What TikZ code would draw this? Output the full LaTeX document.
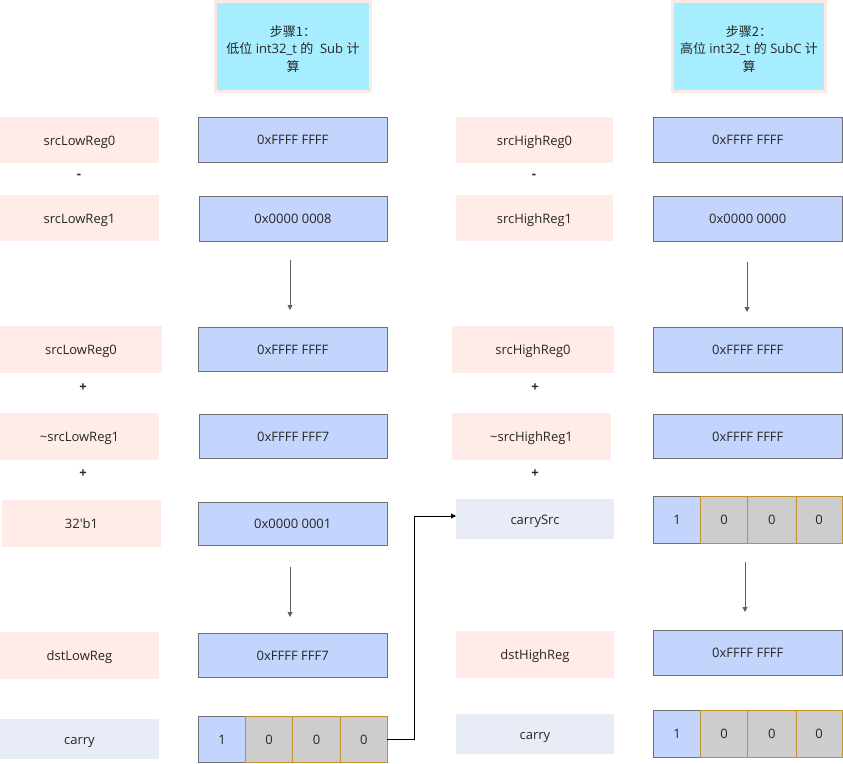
\documentclass[tikz,border=0pt]{standalone}
\usepackage{fontspec}
\setmainfont{Open Sans}
\newfontfamily\cjk{Noto Sans CJK SC}
\usetikzlibrary{arrows.meta}
\definecolor{pinkfill}{HTML}{FFECE8}
\definecolor{bluefill}{HTML}{C3D5FD}
\definecolor{bordergray}{HTML}{707070}
\definecolor{lavfill}{HTML}{E8ECF7}
\definecolor{cyanfill}{HTML}{A6EEFF}
\definecolor{headborder}{HTML}{FDE8E4}
\definecolor{cellgray}{HTML}{CDCDCD}
\definecolor{gold}{HTML}{C3922E}
\definecolor{txt}{HTML}{262626}
\definecolor{arrowgray}{HTML}{5F5F5F}
\newcommand\bx[7]{\node[#6, minimum width={#4-#2}, minimum height={#5-#3}] (#1) at ({(#2+#4)/2},{(#3+#5)/2}) {#7};}
\begin{document}
\begin{tikzpicture}[x=1pt,y=-1pt,
  every node/.style={font=\fontsize{13}{18}\selectfont, text=txt, inner sep=0pt, outer sep=0pt},
  tx/.style={text height=11.5pt, text depth=1.2pt},
  lbl/.style={tx, fill=pinkfill},
  lav/.style={tx, fill=lavfill},
  val/.style={tx, fill=bluefill, draw=bordergray, line width=0.9pt},
  cone/.style={tx, fill=bluefill, draw=bordergray, line width=0.9pt},
  czero/.style={tx, fill=cellgray, draw=gold, line width=0.9pt},
  head/.style={fill=cyanfill, draw=headborder, line width=3pt},
  htext/.style={align=center, font=\fontsize{13}{17.5}\selectfont},
  op/.style={font=\fontsize{13}{14}\selectfont\bfseries},
  flow/.style={draw=arrowgray, line width=0.8pt, -{Triangle[length=5pt,width=5pt]}},
  link/.style={draw=black, line width=0.9pt, -{Triangle[length=5pt,width=5pt]}}]
\useasboundingbox (0,0) rectangle (843,763);
% headers
\bx{h1}{215.5}{1.5}{370.5}{91.5}{head}{}
\node[htext] (h1t) at (293,49) {{\cjk 步骤1：}\\{\cjk 低位} int32\_t {\cjk 的}\ \ Sub {\cjk 计}\\{\cjk 算}};
\bx{h2}{672.5}{1.5}{825.5}{91.5}{head}{}
\node[htext] (h2t) at (749,49) {{\cjk 步骤2：}\\{\cjk 高位} int32\_t {\cjk 的} SubC {\cjk 计}\\{\cjk 算}};
% left column labels
\bx{a1}{0}{117}{159}{163}{lbl}{srcLowReg0}
\node[op] (m1) at (79,176) {-};
\bx{a2}{0}{195}{159}{241}{lbl}{srcLowReg1}
\bx{a3}{0}{326}{162}{373}{lbl}{srcLowReg0}
\node[op] (p1) at (83,388) {+};
\bx{a4}{0}{413}{159}{460}{lbl}{\textasciitilde srcLowReg1}
\node[op] (p2) at (83,474) {+};
\bx{a5}{2}{500}{161}{547}{lbl}{32\textquotesingle b1}
\bx{a6}{0}{632}{159}{679}{lbl}{dstLowReg}
\bx{a7}{0}{719}{159}{759}{lav}{carry}
% left values
\bx{b1}{198.5}{117}{387}{162}{val}{0xFFFF FFFF}
\bx{b2}{199}{196}{387}{241}{val}{0x0000 0008}
\bx{b3}{198.5}{327}{387}{371}{val}{0xFFFF FFFF}
\bx{b4}{199.5}{414}{387}{458}{val}{0xFFFF FFF7}
\bx{b5}{198.5}{502}{387}{545}{val}{0x0000 0001}
\bx{b6}{198.5}{633}{387}{677}{val}{0xFFFF FFF7}
\bx{lc1}{198.5}{716}{245.5}{762}{cone}{1}
\bx{lc2}{245.5}{716}{292.5}{762}{czero}{0}
\bx{lc3}{292.5}{716}{340.5}{762}{czero}{0}
\bx{lc4}{340.5}{716}{387}{762}{czero}{0}
% right column labels
\bx{c1}{456}{117}{613}{163}{lbl}{srcHighReg0}
\node[op] (m2) at (534,176) {-};
\bx{c2}{456}{195}{613}{241}{lbl}{srcHighReg1}
\bx{c3}{452}{326}{614}{373}{lbl}{srcHighReg0}
\node[op] (p3) at (535,388) {+};
\bx{c4}{452}{413}{611}{460}{lbl}{\textasciitilde srcHighReg1}
\node[op] (p4) at (535,474) {+};
\bx{c5}{456}{499}{614}{539}{lav}{carrySrc}
\bx{c6}{456}{631}{614}{678}{lbl}{dstHighReg}
\bx{c7}{456}{714}{614}{754}{lav}{carry}
% right values
\bx{d1}{653.5}{117}{842}{162}{val}{0xFFFF FFFF}
\bx{d2}{653.5}{196}{842}{241}{val}{0x0000 0000}
\bx{d3}{653.5}{327}{842}{372}{val}{0xFFFF FFFF}
\bx{d4}{653.5}{414}{842}{458}{val}{0xFFFF FFFF}
\bx{rc1}{653.5}{496}{700.5}{543}{cone}{1}
\bx{rc2}{700.5}{496}{747.5}{543}{czero}{0}
\bx{rc3}{747.5}{496}{796}{543}{czero}{0}
\bx{rc4}{796}{496}{842}{543}{czero}{0}
\bx{d5}{653.5}{630}{842}{675}{val}{0xFFFF FFFF}
\bx{sc1}{653.5}{710}{700.5}{757}{cone}{1}
\bx{sc2}{700.5}{710}{747.5}{757}{czero}{0}
\bx{sc3}{747.5}{710}{796}{757}{czero}{0}
\bx{sc4}{796}{710}{842}{757}{czero}{0}
% flow arrows
\coordinate (f1s) at (290,260); \coordinate (f1e) at (290,310);
\coordinate (f2s) at (290,567); \coordinate (f2e) at (290,617);
\coordinate (f3s) at (747,262); \coordinate (f3e) at (747,312);
\coordinate (f4s) at (745,562); \coordinate (f4e) at (745,612);
\draw[flow] (f1s) -- (f1e);
\draw[flow] (f2s) -- (f2e);
\draw[flow] (f3s) -- (f3e);
\draw[flow] (f4s) -- (f4e);
% carry link
\coordinate (bend) at (414,739);
\draw[link] (lc4.east) -- (bend) |- ([yshift=3pt]c5.west);
\end{tikzpicture}
\end{document}
